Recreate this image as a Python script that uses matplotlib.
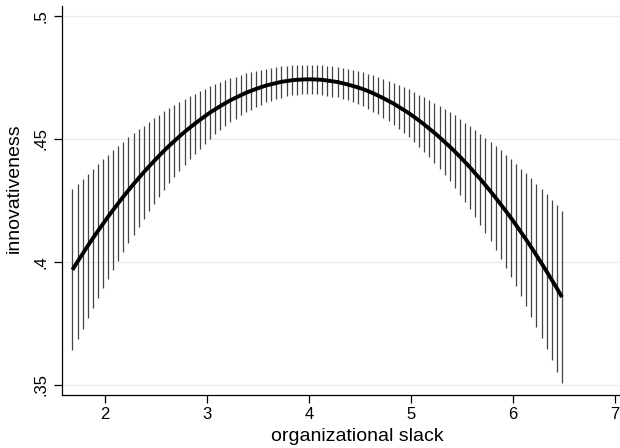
import matplotlib
matplotlib.use("Agg")
import matplotlib.pyplot as plt

plt.rcParams["font.family"] = ["Liberation Sans", "DejaVu Sans"]

# organizational slack values where the margins are evaluated
slack = [1.68, 1.73, 1.78, 1.83, 1.88, 1.93, 1.98, 2.03, 2.08, 2.13,
         2.18, 2.23, 2.28, 2.33, 2.38, 2.43, 2.48, 2.53, 2.58, 2.63,
         2.68, 2.73, 2.78, 2.83, 2.88, 2.93, 2.98, 3.03, 3.08, 3.13,
         3.18, 3.23, 3.28, 3.33, 3.38, 3.43, 3.48, 3.53, 3.58, 3.63,
         3.68, 3.73, 3.78, 3.83, 3.88, 3.93, 3.98, 4.03, 4.08, 4.13,
         4.18, 4.23, 4.28, 4.33, 4.38, 4.43, 4.48, 4.53, 4.58, 4.63,
         4.68, 4.73, 4.78, 4.83, 4.88, 4.93, 4.98, 5.03, 5.08, 5.13,
         5.18, 5.23, 5.28, 5.33, 5.38, 5.43, 5.48, 5.53, 5.58, 5.63,
         5.68, 5.73, 5.78, 5.83, 5.88, 5.93, 5.98, 6.03, 6.08, 6.13,
         6.18, 6.23, 6.28, 6.33, 6.38, 6.43, 6.48]

# predicted innovativeness
pred = [0.3967, 0.4000, 0.4032, 0.4064, 0.4095, 0.4125, 0.4154, 0.4183, 0.4211, 0.4238,
        0.4265, 0.4291, 0.4316, 0.4340, 0.4364, 0.4387, 0.4409, 0.4431, 0.4452, 0.4472,
        0.4491, 0.4510, 0.4528, 0.4545, 0.4561, 0.4577, 0.4592, 0.4607, 0.4620, 0.4633,
        0.4645, 0.4657, 0.4667, 0.4677, 0.4687, 0.4695, 0.4703, 0.4710, 0.4717, 0.4722,
        0.4727, 0.4732, 0.4735, 0.4738, 0.4740, 0.4741, 0.4742, 0.4742, 0.4741, 0.4740,
        0.4737, 0.4734, 0.4731, 0.4726, 0.4721, 0.4715, 0.4709, 0.4702, 0.4694, 0.4685,
        0.4675, 0.4665, 0.4654, 0.4643, 0.4630, 0.4617, 0.4604, 0.4589, 0.4574, 0.4558,
        0.4541, 0.4524, 0.4506, 0.4487, 0.4468, 0.4448, 0.4427, 0.4405, 0.4383, 0.4359,
        0.4336, 0.4311, 0.4286, 0.4260, 0.4233, 0.4206, 0.4178, 0.4149, 0.4119, 0.4089,
        0.4058, 0.4026, 0.3993, 0.3960, 0.3926, 0.3892, 0.3856]

# half width of the confidence interval
ci_half = [0.0327, 0.0316, 0.0304, 0.0294, 0.0283, 0.0273, 0.0262, 0.0253, 0.0243, 0.0234,
           0.0224, 0.0216, 0.0207, 0.0199, 0.0190, 0.0182, 0.0175, 0.0167, 0.0160, 0.0153,
           0.0147, 0.0140, 0.0134, 0.0128, 0.0122, 0.0117, 0.0112, 0.0107, 0.0102, 0.0098,
           0.0094, 0.0090, 0.0086, 0.0082, 0.0079, 0.0076, 0.0074, 0.0071, 0.0069, 0.0067,
           0.0065, 0.0064, 0.0062, 0.0061, 0.0061, 0.0060, 0.0060, 0.0060, 0.0060, 0.0061,
           0.0061, 0.0062, 0.0062, 0.0063, 0.0065, 0.0066, 0.0068, 0.0069, 0.0071, 0.0074,
           0.0076, 0.0079, 0.0082, 0.0085, 0.0089, 0.0093, 0.0097, 0.0101, 0.0106, 0.0111,
           0.0116, 0.0122, 0.0128, 0.0134, 0.0140, 0.0147, 0.0154, 0.0161, 0.0169, 0.0177,
           0.0185, 0.0193, 0.0202, 0.0211, 0.0220, 0.0230, 0.0239, 0.0249, 0.0259, 0.0270,
           0.0281, 0.0292, 0.0303, 0.0315, 0.0327, 0.0339, 0.0351]

xticks = [2, 3, 4, 5, 6, 7]
yticks = [0.35, 0.4, 0.45, 0.5]
ytick_labels = [".35", ".4", ".45", ".5"]

lower = [p - h for p, h in zip(pred, ci_half)]
upper = [p + h for p, h in zip(pred, ci_half)]

fig = plt.figure(figsize=(6.2, 4.48), dpi=100)
ax = fig.add_axes([0.1, 0.119, 0.9, 0.868])

ax.vlines(slack, lower, upper, color="#444444", linewidth=0.9, zorder=2)
ax.plot(slack, pred, color="black", linewidth=2.8, zorder=3, solid_capstyle="butt")

ax.set_xlim(1.578, 7.049)
ax.set_ylim(0.3459, 0.5041)
ax.set_xticks(xticks)
ax.set_yticks(yticks)
ax.set_yticklabels(ytick_labels, rotation=90, va="center")

ax.grid(axis="y", color="#ebebeb", linewidth=0.9)
ax.set_axisbelow(True)
for side in ["top", "right"]:
    ax.spines[side].set_visible(False)
for side in ["left", "bottom"]:
    ax.spines[side].set_linewidth(0.9)

ax.tick_params(axis="both", length=6, width=0.9, labelsize=12, color="black")
ax.tick_params(axis="x", pad=3)
ax.tick_params(axis="y", pad=4)

ax.set_xlabel("organizational slack", fontsize=14)
ax.set_ylabel("innovativeness", fontsize=14)
ax.xaxis.set_label_coords(0.529, -0.085)
ax.yaxis.set_label_coords(-0.086, 0.53)
ax.xaxis.label.set_va("top")
ax.yaxis.label.set_va("center")

fig.savefig("out.png", dpi=100)
plt.close(fig)
